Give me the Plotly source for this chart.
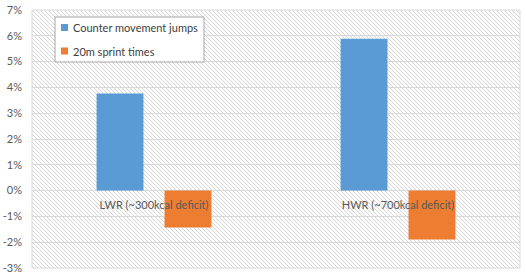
import base64
import plotly.graph_objects as go

categories = ["LWR (~300kcal deficit)", "HWR (~700kcal deficit)"]
cmj = [3.76, 5.89]
sprint = [-1.43, -1.9]
series_names = ["Counter movement jumps", "20m sprint times"]
colors = ["#5b9bd5", "#ed7d31"]
y_ticks = list(range(-3, 8))

W, H = 526, 277
L, R, T, B = 32, 6, 10, 9
PW, PH = W - L - R, H - T - B

svg = ('<svg xmlns="http://www.w3.org/2000/svg" width="488" height="258" preserveAspectRatio="none">'
       '<defs><pattern id="p" width="4" height="4" patternUnits="userSpaceOnUse">'
       '<path d="M-1,-1 L5,5 M-1,3 L1,5 M3,-1 L5,1" stroke="#d6d6d6" stroke-width="1"/></pattern></defs>'
       '<rect width="488" height="258" fill="url(#p)"/></svg>')
src = "data:image/svg+xml;base64," + base64.b64encode(svg.encode()).decode()

fig = go.Figure()
for name, vals, c in zip(series_names, [cmj, sprint], colors):
    fig.add_trace(go.Bar(x=categories, y=vals, name=name, showlegend=False,
                         marker=dict(color=c, line=dict(width=0))))

def px(x):
    return (x - L) / PW

def py(y):
    return 1 - (y - T) / PH

fam = "Lato, Noto Sans, sans-serif"
shapes = [dict(type="rect", xref="paper", yref="paper", x0=0, x1=1, y0=0, y1=1,
               line=dict(color="#d9d9d9", width=1), layer="below"),
          dict(type="rect", xref="paper", yref="paper", x0=px(55), x1=px(204), y0=py(62), y1=py(17),
               fillcolor="white", line=dict(color="#a6a6a6", width=1), layer="above")]
annotations = []
item_y = [27.5, 51]
for name, c, yy in zip(series_names, colors, item_y):
    shapes.append(dict(type="rect", xref="paper", yref="paper", x0=px(61), x1=px(68),
                       y0=py(yy + 3.5), y1=py(yy - 3.5), fillcolor=c, line=dict(width=0), layer="above"))
    annotations.append(dict(text=name, xref="paper", yref="paper", x=px(71), y=py(yy),
                            xanchor="left", yanchor="middle", showarrow=False,
                            font=dict(family=fam, size=11, color="#404040")))

fig.update_layout(
    width=W, height=H,
    margin=dict(l=L, r=R, t=T, b=B, autoexpand=False),
    paper_bgcolor="white", plot_bgcolor="rgba(0,0,0,0)",
    barmode="group", bargap=0.443, bargroupgap=0.31,
    font=dict(family=fam, size=11, color="#595959"),
    showlegend=False,
    images=[dict(source=src, xref="paper", yref="paper", x=0, y=1, sizex=1, sizey=1,
                 sizing="stretch", layer="below", xanchor="left", yanchor="top")],
    xaxis=dict(type="category", range=[-0.5, 1.5], showgrid=False, showline=False,
               zeroline=False, ticks="", anchor="free", position=0.3, automargin=False,
               tickfont=dict(family=fam, size=11, color="#595959"),
               ticklabelstandoff=6),
    yaxis=dict(range=[-3, 7], tickvals=y_ticks, ticktext=[f"{v}%" for v in y_ticks],
               showgrid=True, gridcolor="#d9d9d9", gridwidth=1, zeroline=False, automargin=False,
               showline=False, ticks="", ticklabelstandoff=9, fixedrange=True),
    shapes=shapes,
    annotations=annotations,
)
fig.write_html("out.html")
